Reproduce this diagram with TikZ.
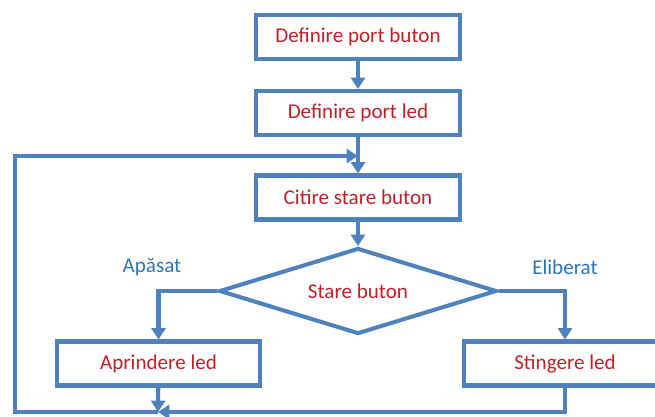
\documentclass[tikz,border=0pt]{standalone}
\usepackage{fontspec}
\setmainfont{Carlito}
\usetikzlibrary{shapes.geometric,arrows.meta}
\definecolor{linieblue}{RGB}{79,129,189}
\definecolor{textred}{RGB}{192,32,40}
\definecolor{labelblue}{RGB}{46,117,182}
\tikzset{
    pas/.style={draw=linieblue, line width=2.3pt, minimum width=4.08cm, minimum height=0.88cm,
        text=textred, font=\fontsize{12}{14}\selectfont},
    decizie/.style={draw=linieblue, line width=2.3pt, shape=diamond, inner sep=0pt, aspect=3.2,
        minimum width=5.55cm, minimum height=1.72cm, text=textred, font=\fontsize{12}{14}\selectfont},
    eticheta/.style={text=labelblue, font=\fontsize{12}{14}\selectfont},
    sageata/.style={draw=linieblue, line width=2.3pt, -{Triangle[width=8pt,length=6.5pt]}}
}
\begin{document}
\begin{tikzpicture}[x=0.02cm, y=-0.02cm]
        \useasboundingbox (0,0) rectangle (655,416);
        \begin{scope}
            \node[pas] (portbuton) at (358,37) {Definire port buton};
            \node[pas] (portled) at (358,113) {Definire port led};
            \node[pas] (citire) at (358,197.5) {Citire stare buton};
            \node[decizie] (stare) at (358,291) {Stare buton};
            \node[pas, minimum width=4.06cm] (aprindere) at (158.5,363.5) {Aprindere led};
            \node[pas, minimum width=4.04cm] (stingere) at (565,363.5) {Stingere led};
        \end{scope}
        \node[eticheta] (apasat) at (152,267) {Apăsat};
        \node[eticheta] (eliberat) at (565,267) {Eliberat};
        \coordinate (sus) at (358,156);
        \coordinate (jos) at (158,412);
        \coordinate (stanga) at (15,412);
        \draw[sageata] (portbuton) -- (portled);
        \draw[sageata] (portled) -- (citire);
        \draw[sageata] (citire) -- (stare);
        \draw[sageata] (stare.west) -| (aprindere.north);
        \draw[sageata] (stare.east) -| (stingere.north);
        \draw[sageata] (aprindere) -- (jos);
        \draw[sageata] (stingere.south) |- (jos);
        \draw[sageata] (jos) -- (stanga) |- (sus);
    \end{tikzpicture}
\end{document}
